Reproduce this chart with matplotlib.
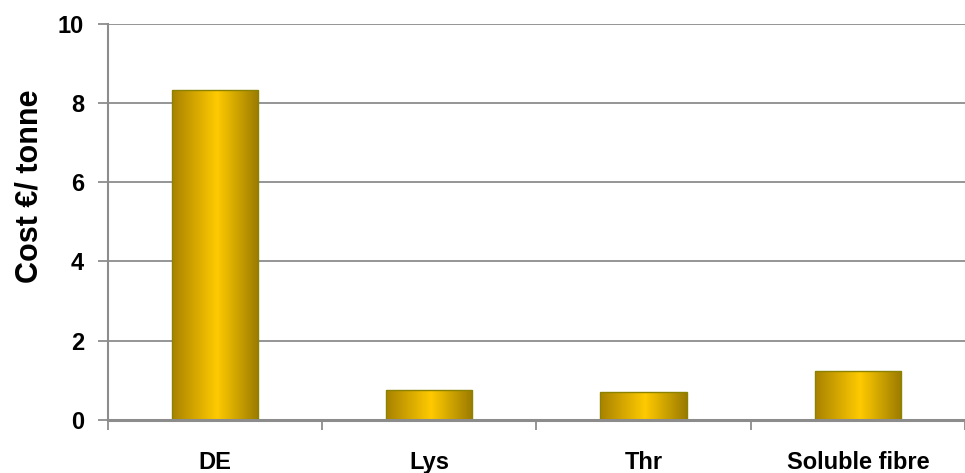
import matplotlib.pyplot as plt
import numpy as np
from matplotlib.colors import LinearSegmentedColormap
from matplotlib.patches import Rectangle

# Cost contribution per tonne
categories = ['DE', 'Lys', 'Thr', 'Soluble fibre']
costs = [8.32, 0.765, 0.71, 1.24]
yticks = [0, 2, 4, 6, 8, 10]

barWidth = 0.404
grid_col = '#8c8c8c'

# gold cylinder-style shading, dark at the edges and bright in the middle
gold = LinearSegmentedColormap.from_list(
    'gold', [(0.0, '#a88200'), (0.52, '#ffca00'), (1.0, '#9a7a00')])

fig = plt.figure(figsize=(9.65, 4.73), dpi=100)
ax = fig.add_axes([107.7 / 965, 1 - 420 / 473, 1 - 107.7 / 965, (420 - 23.7) / 473])

x = np.arange(len(categories))
bars = ax.bar(x, costs, width=barWidth, color='none', edgecolor='none', zorder=3)

grad = np.linspace(0, 1, 256).reshape(1, -1)
for b in bars:
    x0, y0 = b.get_x(), b.get_y()
    w, h = b.get_width(), b.get_height()
    im = ax.imshow(grad, cmap=gold, aspect='auto', extent=[x0, x0 + w, y0, y0 + h],
                   zorder=3, interpolation='bicubic')
    clip = Rectangle((x0, y0), w, h, transform=ax.transData)
    im.set_clip_path(clip)
    ax.add_patch(Rectangle((x0, y0), w, h, fill=False, edgecolor='#8a8200',
                           linewidth=1.0, zorder=4))

ax.set_xlim(-0.5, 3.5 - (979.7 - 965) / 218)
ax.set_ylim(0, 10)

ax.set_yticks(yticks)
ax.set_yticklabels([str(t) for t in yticks], fontsize=17, fontweight='bold',
                   family='Liberation Sans')
ax.yaxis.grid(True, color=grid_col, linewidth=1.3, zorder=0)
ax.set_axisbelow(True)

ax.set_xticks(x)
ax.set_xticklabels(categories, fontsize=17, fontweight='bold', family='Liberation Sans')
ax.set_xticks(np.arange(-0.5, 4, 1.0), minor=True)
ax.tick_params(axis='x', which='major', length=0, pad=22)
ax.tick_params(axis='x', which='minor', length=7, width=1.3, color=grid_col)
ax.tick_params(axis='y', length=7, width=1.3, color=grid_col, pad=10)

ax.set_ylabel('Cost €/ tonne', fontsize=22, fontweight='bold', family='Liberation Sans')
ax.yaxis.set_label_coords(-0.074, 0.59)

for side in ['top', 'right']:
    ax.spines[side].set_visible(False)
ax.spines['left'].set_color(grid_col)
ax.spines['left'].set_linewidth(1.5)
ax.spines['bottom'].set_color(grid_col)
ax.spines['bottom'].set_linewidth(2.2)
ax.spines['bottom'].set_zorder(5)

plt.savefig('out.png', dpi=100)
